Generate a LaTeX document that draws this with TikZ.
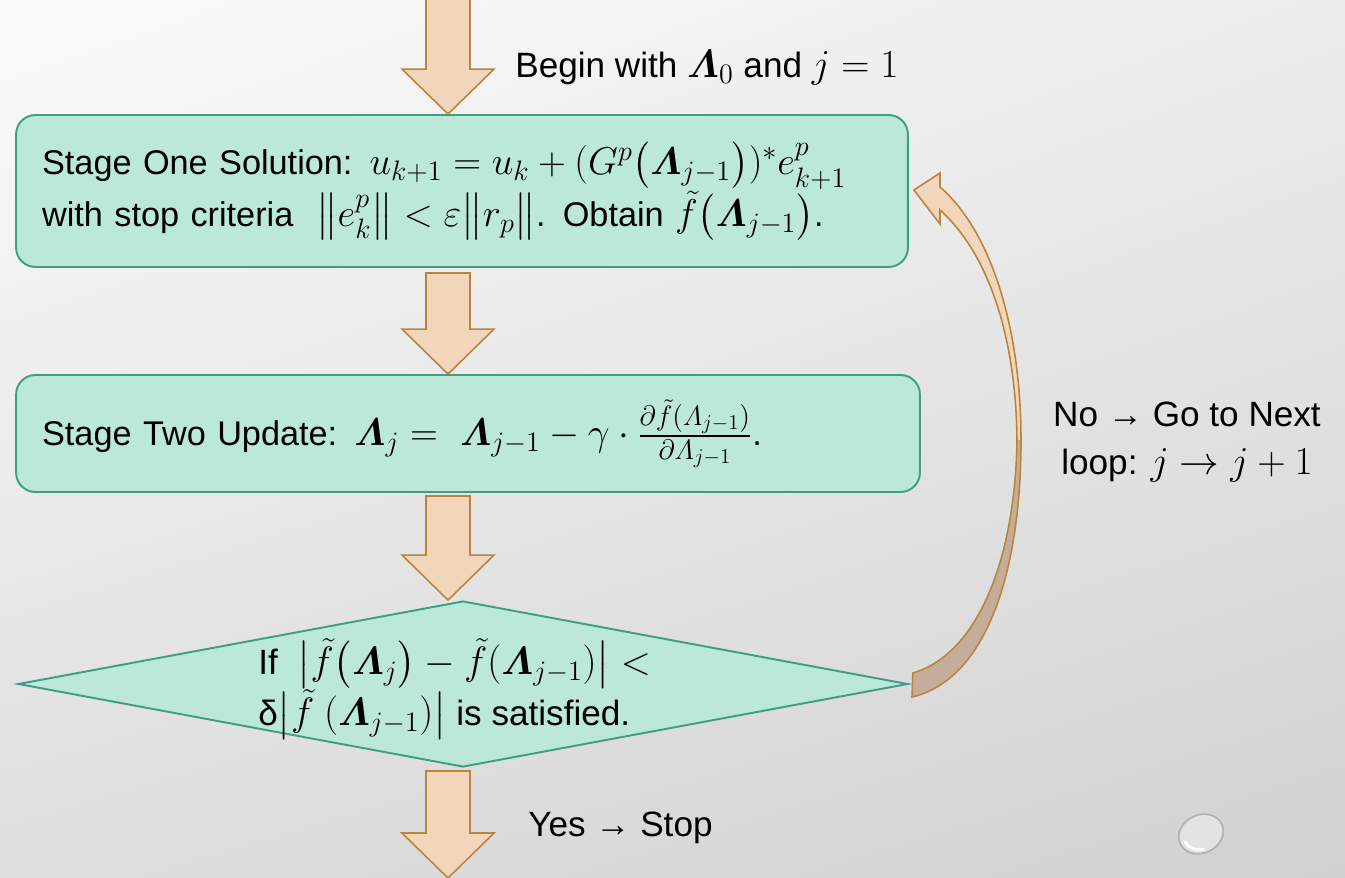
\RequirePackage{fix-cm}
\documentclass[tikz,border=0pt]{standalone}
\usepackage{amsmath,amssymb}
\usepackage[no-math]{fontspec}
\setmainfont{Liberation Sans}
\usetikzlibrary{shapes.geometric, calc, positioning, shadings}

\definecolor{kotakisi}{RGB}{188,232,218}
\definecolor{kotakgaris}{RGB}{62,158,134}
\definecolor{panahisi}{RGB}{242,214,188}
\definecolor{panahgaris}{RGB}{184,132,62}
\definecolor{panahgelap}{RGB}{196,174,153}

% rumus sedikit lebih besar dari teks
\DeclareMathSizes{19.5}{22}{16}{12}
\DeclareMathSizes{20}{22.5}{16}{12}
\newcommand{\teks}{\fontsize{20}{27}\selectfont}
\newcommand{\tekskotak}{\fontsize{19.5}{27}\selectfont}
\newcommand{\bL}{\boldsymbol{\varLambda}}

\tikzstyle{tahap} = [rectangle, rounded corners=11pt, draw=kotakgaris, fill=kotakisi, line width=1.1pt, align=left, inner xsep=0.52cm, font=\tekskotak]
\tikzstyle{cek} = [diamond, draw=kotakgaris, fill=kotakisi, line width=1.1pt, minimum width=17.8cm, minimum height=3.32cm, inner sep=0pt]
\tikzstyle{panah} = [draw=panahgaris, fill=panahisi, line width=0.9pt, line join=miter]
\tikzstyle{keterangan} = [font=\teks, inner sep=0pt]

% panah blok ke bawah: #1 pangkal, #2 ujung
\newcommand{\blockdown}[2]{%
  \draw[panah] ($(#1)+(-22,0)$) -- ($(#1)+(22,0)$) -- ($(#2)+(22,-45)$) -- ($(#2)+(46,-45)$)
    -- (#2) -- ($(#2)+(-46,-45)$) -- ($(#2)+(-22,-45)$) -- cycle;}

\begin{document}
\begin{tikzpicture}[x=0.02cm, y=-0.02cm]
  % Latar belakang
  \useasboundingbox (0,0) rectangle (1345,877);
  \shade[upper left=gray!3, upper right=gray!15, lower left=gray!26, lower right=gray!36] (0,0) rectangle (1345,877);

  % Kotak tahap dan belah ketupat
  \node[tahap, minimum width=17.84cm, minimum height=3.04cm, text width=16.8cm] (satu) at (462,191)
    {Stage One Solution: $u_{k+1} = u_k + (G^p\bigl(\bL_{j-1}\bigr))^*e^p_{k+1}$\\
     with stop criteria \ $\bigl\|e^p_k\bigr\| < \varepsilon\bigl\|r_p\bigr\|$. Obtain $\tilde f\bigl(\bL_{j-1}\bigr)$.};
  \node[tahap, minimum width=18.08cm, minimum height=2.34cm, text width=17.04cm] (dua) at (468,433.5)
    {Stage Two Update: $\bL_j =\ \bL_{j-1} - \gamma\cdot\frac{\partial\tilde f(\varLambda_{j-1})}{\partial\varLambda_{j-1}}$.};
  \node[cek] (cek) at (463,684) {};
  \node[keterangan, anchor=west, align=left, font=\fontsize{20}{29}\selectfont] (cekteks) at (258,689)
    {If \ $\bigl|\tilde f\bigl(\bL_j\bigr) - \tilde f(\bL_{j-1})\bigr| <$\\
     δ$\bigl|\tilde f\ (\bL_{j-1})\bigr|$ is satisfied.};

  % Keterangan
  \node[keterangan, anchor=west] (mulai) at (515,68) {Begin with $\bL_0$ and $j = 1$};
  \node[keterangan, anchor=west] (ya) at (528,828) {Yes → Stop};
  \node[keterangan, align=center] (tidak) at (1187,442) {No → Go to Next\\loop: $j \rightarrow j + 1$};

  % Panah blok
  \coordinate (ax) at (448,0);
  \coordinate (p1) at (448,-5);
  \path (ax |- satu.north) coordinate (u1);
  \path (ax |- satu.south) ++(0,5) coordinate (p2);
  \path (ax |- dua.north) coordinate (u2);
  \path (ax |- dua.south) ++(0,3) coordinate (p3);
  \path (ax |- cek.north) coordinate (u3);
  \path (ax |- cek.south) ++(0,3) coordinate (p4);
  \coordinate (u4) at (448,878);
  \foreach \a/\b in {p1/u1, p2/u2, p3/u3, p4/u4} {
    \blockdown{\a}{\b}
  }

  % Panah lengkung kembali
  \path (satu.east) ++(5,-1) coordinate (ujung);
  \path (cek.east) ++(4,-11) coordinate (ekor);
  \fill[panahisi] (ujung) -- (940,173) -- (940,187) .. controls (992,232) and (1021,330) .. (1021,440)
    .. controls (1021,575) and (985,680) .. (912,697) -- (ekor) .. controls (975,655) and (1015,565) .. (1017,440)
    .. controls (1016,340) and (990,255) .. (940,210) -- (940,224) -- cycle;
  \fill[panahgelap] (1021,440) .. controls (1021,575) and (985,680) .. (912,697) -- (ekor)
    .. controls (975,655) and (1015,565) .. (1017,440) -- cycle;
  \draw[panahgaris, line width=0.9pt, line join=miter] (ujung) -- (940,173) -- (940,187) .. controls (992,232) and (1021,330) .. (1021,440)
    .. controls (1021,575) and (985,680) .. (912,697) -- (ekor) .. controls (975,655) and (1015,565) .. (1017,440)
    .. controls (1016,340) and (990,255) .. (940,210) -- (940,224) -- cycle;

  % Hiasan bulat
  \filldraw[fill=gray!22, draw=gray!60, line width=1pt, shift={(1201,834)}, rotate=25] (0,0) ellipse (0.46cm and 0.38cm);
  \draw[white, line width=1.5pt, shift={(1201,834)}, rotate=25] (-0.36cm,0) arc (180:260:0.36cm and 0.30cm);
\end{tikzpicture}
\end{document}
